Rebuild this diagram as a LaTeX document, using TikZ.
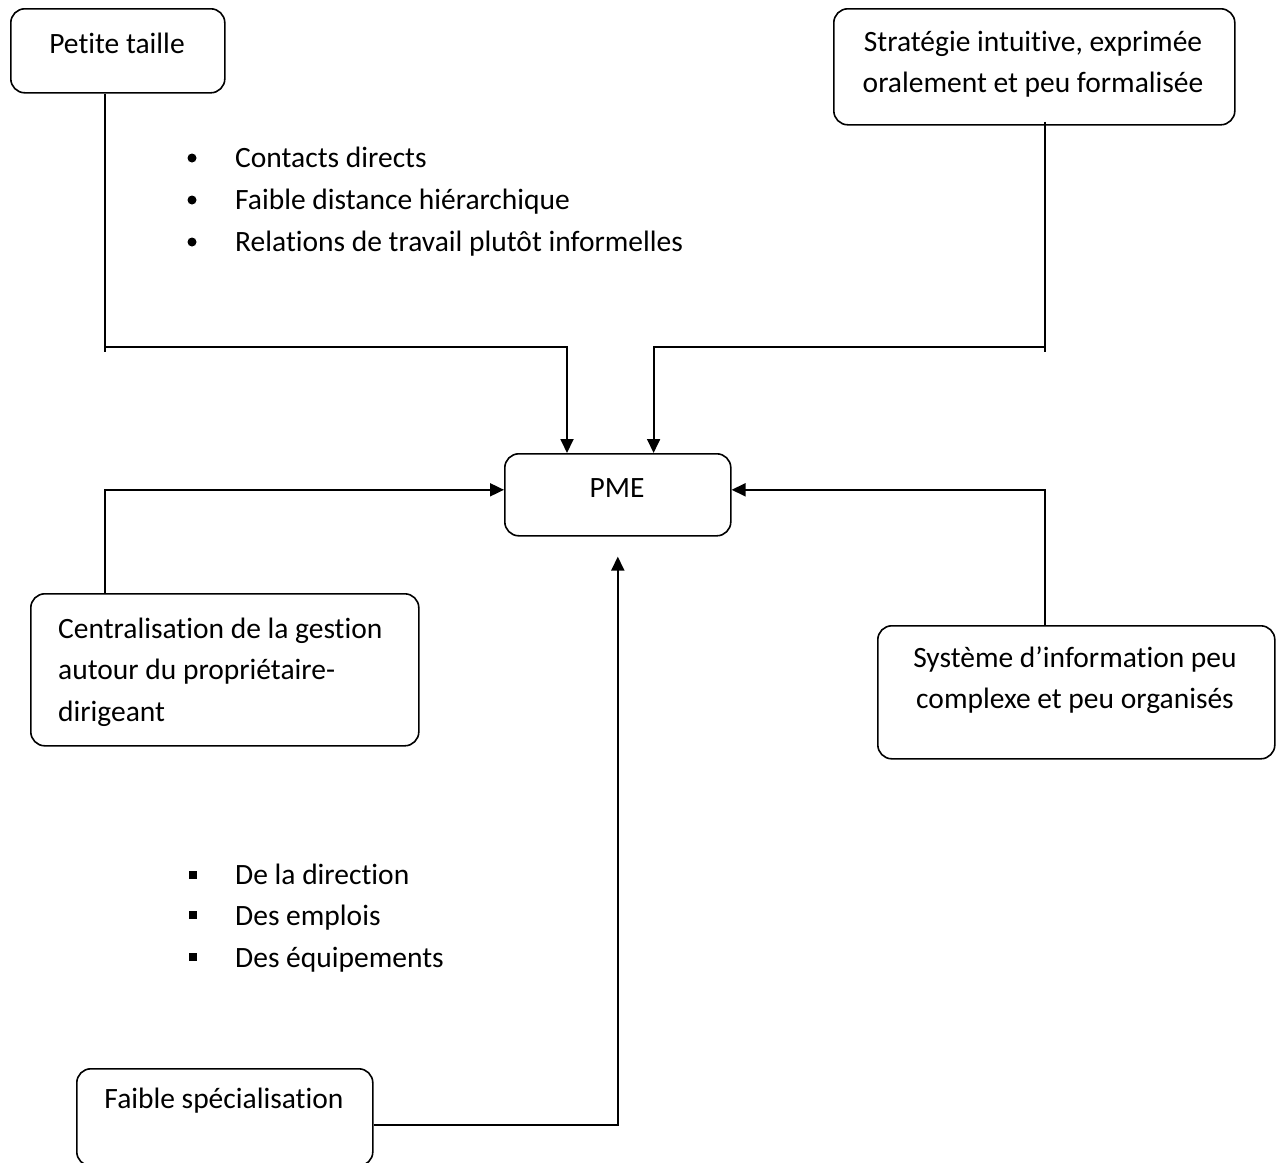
\documentclass[tikz,border=0pt]{standalone}
\usepackage{fontspec}
\setmainfont{Carlito}[Ligatures=NoCommon]
\usetikzlibrary{arrows.meta,calc}
\begin{document}
\begin{tikzpicture}[x=1pt,y=-1pt,
 box/.style={draw,line width=1.6pt,rounded corners=14pt,anchor=north west,inner sep=0pt},
 txt/.style={font=\fontsize{29.5}{41.5}\selectfont,inner sep=0pt},
 conn/.style={line width=1.8pt},
 arr/.style={line width=1.8pt,-{Triangle[length=14pt,width=13pt]}}]
\useasboundingbox (0,0) rectangle (1276,1162);
\clip (0,0) rectangle (1276,1162);
% boxes
\node[box,minimum width=214pt,minimum height=84pt] (petite) at (10,8) {};
\node[txt] (tpetite) at (117,43) {Petite taille};
\node[box,minimum width=401pt,minimum height=116pt] (strat) at (833,8) {};
\node[txt,align=center] (tstrat) at (1033,64) {Stratégie intuitive, exprimée\\oralement et peu formalisée};
\node[box,minimum width=226pt,minimum height=82pt] (pme) at (504,453) {};
\node[txt] (tpme) at (617,488) {PME};
\node[box,minimum width=388pt,minimum height=152pt] (central) at (30,593) {};
\node[txt,align=left,anchor=west] (tcentral) at (58,672) {Centralisation de la gestion\\autour du propriétaire-\\dirigeant};
\node[box,minimum width=397pt,minimum height=133pt] (sys) at (877,625) {};
\node[txt,align=center] (tsys) at (1075,680) {Système d’information peu\\complexe et peu organisés};
\node[box,minimum width=296pt,minimum height=97pt] (faible) at (76,1068) {};
\node[txt] (tfaible) at (224,1101) {Faible spécialisation};
% bullet lists
\fill (192,158) circle[radius=4.5pt];
\fill (192,200) circle[radius=4.5pt];
\fill (192,242) circle[radius=4.5pt];
\node[txt,anchor=base west] (b1) at (235,167) {Contacts directs};
\node[txt,anchor=base west] (b2) at (235,209) {Faible distance hiérarchique};
\node[txt,anchor=base west] (b3) at (235,251) {Relations de travail plutôt informelles};
\fill (188.5,871) rectangle (196.5,879);
\fill (188.5,911) rectangle (196.5,919);
\fill (188.5,953) rectangle (196.5,961);
\node[txt,anchor=base west] (s1) at (235,884) {De la direction};
\node[txt,anchor=base west] (s2) at (235,925) {Des emplois};
\node[txt,anchor=base west] (s3) at (235,967) {Des équipements};
% connectors
\coordinate (lv) at (105,352);
\coordinate (rv) at (1045,352);
\draw[conn] (petite.south -| lv) -- (lv);
\draw[arr] ($(lv)+(0,-5)$) -| ($(pme.north west)+(63,0)$);
\draw[conn] ($(strat.south -| rv)+(0,-4)$) -- (rv);
\draw[arr] ($(rv)+(0,-5)$) -| ($(pme.north east)+(-78,0)$);
\draw[arr] ($(central.north west)+(75,0)$) |- ($(pme.west)+(0,-5)$);
\draw[arr] ($(sys.north west)+(168,0)$) |- ($(pme.east)+(0,-5)$);
\draw[arr] ($(faible.north east)+(0,57)$) -| ($(pme.south)+(0,20)$);
\end{tikzpicture}
\end{document}
